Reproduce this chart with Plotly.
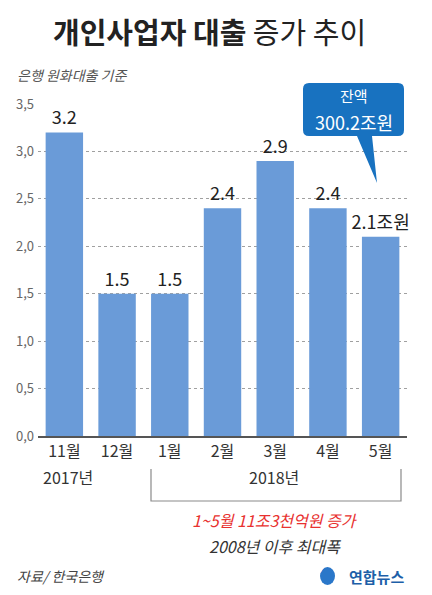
import plotly.graph_objects as go

months = ["11월", "12월", "1월", "2월", "3월", "4월", "5월"]
values = [3.2, 1.5, 1.5, 2.4, 2.9, 2.4, 2.1]
tick_vals = [0, 0.5, 1.0, 1.5, 2.0, 2.5, 3.0, 3.5]
tick_text = ["0,0", "0,5", "1,0", "1,5", "2,0", "2,5", "3,0", "3,5"]
bar_text = [f"{v:.1f}" for v in values]
bar_text[-1] = bar_text[-1] + "조원"

FONT = "Noto Sans CJK KR"
W, H = 432, 595
L, R, T, B = 38, 407, 104, 436  # plot area pixels


def px(x):
    return (x - L) / (R - L)


def py(y):
    return (B - y) / (B - T)


fig = go.Figure()
fig.add_trace(go.Bar(
    x=months, y=values, width=0.71,
    marker=dict(color="#6a9bd8", line=dict(width=0)),
    text=bar_text, textposition="outside", cliponaxis=False,
    constraintext="none",
    textfont=dict(family=FONT, size=18, color="#222"),
    hoverinfo="skip",
))

fig.update_layout(
    width=W, height=H,
    margin=dict(l=L, r=W - R, t=T, b=H - B),
    paper_bgcolor="white", plot_bgcolor="white",
    showlegend=False, bargap=0.29,
    font=dict(family=FONT),
    xaxis=dict(
        range=[-0.5, 6.5], showgrid=False, showline=True,
        linecolor="#555", linewidth=1.5, ticks="",
        tickfont=dict(family=FONT, size=16, color="#333"),
        fixedrange=True,
    ),
    yaxis=dict(
        range=[0, 3.5], tickvals=tick_vals, ticktext=tick_text,
        showgrid=True, gridcolor="#a0a0a0", griddash="dot", gridwidth=1,
        zeroline=False, showline=False, ticks="",
        tickfont=dict(family=FONT, size=13, color="#666"),
        ticklabelstandoff=3, fixedrange=True,
    ),
)

ann = []
ann.append(dict(x=px(209), y=py(31), xref="paper", yref="paper", xanchor="center", yanchor="middle",
                text="<b>개인사업자 대출</b> 증가 추이", showarrow=False,
                font=dict(family=FONT, size=29, color="#222")))
# subtitle
ann.append(dict(x=px(15), y=py(75), xref="paper", yref="paper", xanchor="left", yanchor="middle",
                text="<i>은행 원화대출 기준</i>", showarrow=False,
                font=dict(family=FONT, size=14, color="#555")))
# years
ann.append(dict(x=px(68), y=py(477), xref="paper", yref="paper", xanchor="center", yanchor="middle",
                text="2017년", showarrow=False, font=dict(family=FONT, size=16, color="#333")))
ann.append(dict(x=px(274), y=py(477), xref="paper", yref="paper", xanchor="center", yanchor="middle",
                text="2018년", showarrow=False, font=dict(family=FONT, size=16, color="#333")))
# red note
ann.append(dict(x=px(275), y=py(520), xref="paper", yref="paper", xanchor="center", yanchor="middle",
                text="<i>1~5월 11조3천억원 증가</i>", showarrow=False,
                font=dict(family=FONT, size=16, color="#e8312f")))
ann.append(dict(x=px(275), y=py(546), xref="paper", yref="paper", xanchor="center", yanchor="middle",
                text="<i>2008년 이후 최대폭</i>", showarrow=False,
                font=dict(family=FONT, size=16, color="#333")))
# source
ann.append(dict(x=px(15), y=py(576), xref="paper", yref="paper", xanchor="left", yanchor="middle",
                text="<i>자료/ 한국은행</i>", showarrow=False,
                font=dict(family=FONT, size=14, color="#444")))
# logo text
ann.append(dict(x=px(406), y=py(576), xref="paper", yref="paper", xanchor="right", yanchor="middle",
                text="<b>연합뉴스</b>", showarrow=False,
                font=dict(family=FONT, size=15, color="#1d5fa8")))
# callout text
ann.append(dict(x=px(354), y=py(96), xref="paper", yref="paper", xanchor="center", yanchor="middle",
                text="잔액", showarrow=False, font=dict(family=FONT, size=15, color="white")))
ann.append(dict(x=px(354), y=py(122), xref="paper", yref="paper", xanchor="center", yanchor="middle",
                text="300.2조원", showarrow=False, font=dict(family=FONT, size=18, color="white")))
fig.update_layout(annotations=ann)


def path(points_px, close=True):
    s = ""
    for i, (x, y) in enumerate(points_px):
        s += ("M" if i == 0 else "L") + f"{px(x):.5f},{py(y):.5f} "
    if close:
        s += "Z"
    return s


# callout box with rounded corners and tail
x0, x1, y0, y1, r = 303, 404, 83, 136, 6
cb = (
    f"M{px(x0 + r):.5f},{py(y0):.5f} "
    f"L{px(x1 - r):.5f},{py(y0):.5f} "
    f"Q{px(x1):.5f},{py(y0):.5f} {px(x1):.5f},{py(y0 + r):.5f} "
    f"L{px(x1):.5f},{py(y1 - r):.5f} "
    f"Q{px(x1):.5f},{py(y1):.5f} {px(x1 - r):.5f},{py(y1):.5f} "
    f"L{px(372):.5f},{py(y1):.5f} "
    f"L{px(377):.5f},{py(183):.5f} "
    f"L{px(357):.5f},{py(y1):.5f} "
    f"L{px(x0 + r):.5f},{py(y1):.5f} "
    f"Q{px(x0):.5f},{py(y1):.5f} {px(x0):.5f},{py(y1 - r):.5f} "
    f"L{px(x0):.5f},{py(y0 + r):.5f} "
    f"Q{px(x0):.5f},{py(y0):.5f} {px(x0 + r):.5f},{py(y0):.5f} Z"
)
fig.add_shape(type="path", path=cb, xref="paper", yref="paper",
              fillcolor="#1872c0", line=dict(width=0), layer="above")

# bracket
fig.add_shape(type="path", path=path([(151, 469), (151, 501), (401, 501), (401, 469)], close=False),
              xref="paper", yref="paper", line=dict(color="#8a8a8a", width=1.2))

# logo icon
fig.add_shape(type="circle", xref="paper", yref="paper",
              x0=px(320), x1=px(335), y0=py(585), y1=py(567),
              fillcolor="#2a77c9", line=dict(width=0))
fig.add_annotation(x=px(327.5), y=py(576), xref="paper", yref="paper", text="<b><i>y</i></b>",
                   showarrow=False, font=dict(family=FONT, size=12, color="white"))

fig.write_html("out.html")
